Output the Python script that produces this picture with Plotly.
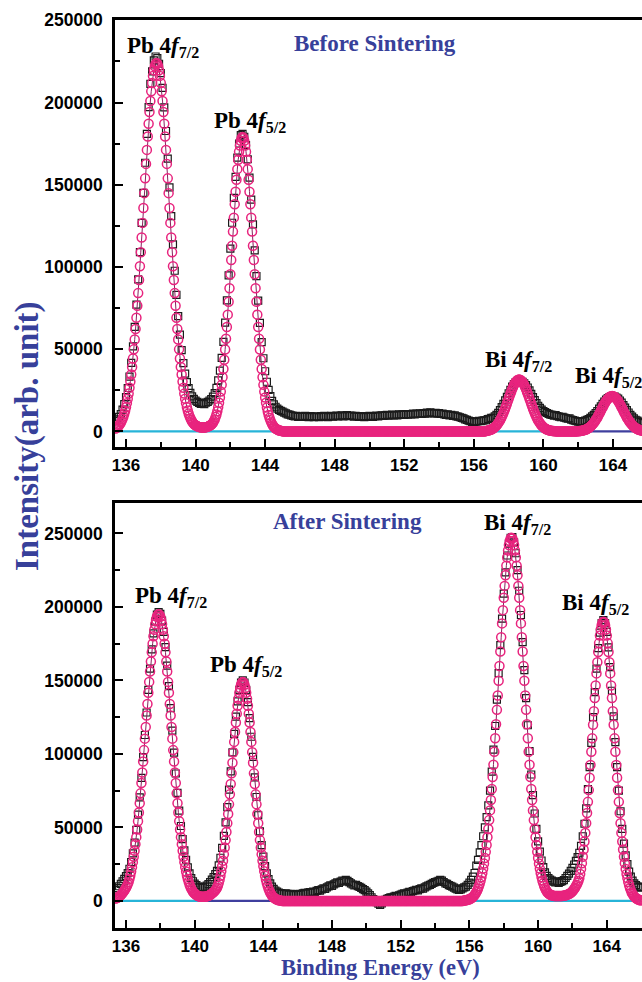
import plotly.graph_objects as go

# ---------------- data ----------------
E_START = 135.4          # first binding-energy sample (eV)
EXP_STEP = 0.1           # spacing of measured points (eV)
FIT_STEP = 0.05          # spacing of fitted-envelope points (eV)
K = 1000.0               # values below are in thousands of counts

# Before sintering: measured intensity (kcounts), 135.4 ... 166.0 eV
TOP_EXP_K = [
    6.2, 7.3, 8.8, 10.6, 13.2, 16.6, 20.9, 26.4, 33.3, 41.7,
    51.7, 63.6, 77.1, 92.4, 109.0, 126.8, 145.1, 163.4, 181.0, 197.2,
    211.3, 218.9, 225.6, 228.0, 227.0, 223.6, 217.9, 208.9, 197.1, 182.7,
    165.9, 148.4, 130.9, 113.7, 97.7, 83.0, 70.1, 58.8, 49.4, 41.5,
    35.1, 30.0, 26.3, 23.4, 21.3, 19.8, 18.7, 17.9, 17.3, 16.8,
    17.2, 16.6, 17.5, 18.0, 18.8, 19.7, 21.1, 23.3, 26.5, 31.0,
    37.0, 44.7, 54.4, 66.1, 79.7, 94.9, 111.1, 126.9, 142.0, 154.8,
    166.5, 175.1, 180.2, 181.0, 179.2, 174.1, 165.5, 154.3, 141.0, 125.9,
    110.1, 94.4, 79.5, 66.0, 54.3, 44.5, 36.6, 30.2, 25.2, 21.5,
    18.6, 16.5, 15.0, 13.9, 13.1, 12.5, 12.0, 11.4, 11.0, 10.4,
    10.2, 9.8, 9.5, 9.2, 9.4, 8.8, 8.9, 9.2, 8.8, 9.5,
    9.1, 8.7, 9.3, 9.0, 8.6, 9.2, 8.9, 8.7, 9.3, 8.9,
    9.4, 9.0, 8.6, 9.2, 9.5, 9.0, 9.3, 9.6, 9.1, 9.4,
    9.8, 9.2, 9.5, 9.9, 9.3, 9.6, 9.4, 9.0, 9.5, 9.2,
    8.8, 9.3, 9.1, 8.7, 9.2, 9.0, 9.4, 9.1, 8.8, 9.3,
    9.6, 9.2, 9.5, 9.8, 9.4, 9.7, 10.0, 9.6, 9.9, 10.2,
    9.8, 10.1, 9.7, 10.3, 10.0, 10.4, 10.1, 10.5, 10.2, 10.6,
    10.3, 10.8, 10.4, 10.9, 10.6, 11.0, 10.7, 11.1, 10.8, 11.4,
    11.0, 11.6, 11.2, 11.0, 11.3, 10.8, 11.1, 10.6, 10.9, 10.3,
    10.1, 10.4, 9.8, 10.0, 9.5, 9.7, 9.2, 9.0, 8.6, 8.2,
    7.9, 7.3, 7.0, 6.5, 6.2, 5.8, 5.6, 5.9, 6.1, 6.4,
    6.2, 6.6, 6.8, 6.8, 7.5, 7.7, 8.2, 8.3, 9.1, 10.0,
    11.3, 12.9, 14.8, 16.8, 18.9, 21.0, 23.2, 25.2, 27.2, 28.7,
    29.9, 30.5, 30.3, 30.6, 30.2, 29.3, 28.2, 26.7, 24.9, 22.8,
    20.9, 19.0, 17.2, 15.6, 14.3, 13.2, 12.4, 11.7, 11.2, 10.7,
    10.2, 10.1, 9.6, 9.9, 9.3, 9.0, 8.7, 8.9, 8.4, 8.0,
    7.7, 7.9, 7.2, 6.9, 6.5, 6.2, 6.0, 6.0, 6.0, 6.2,
    6.5, 7.0, 7.5, 8.2, 9.1, 10.0, 11.2, 12.4, 13.8, 15.2,
    16.7, 18.1, 19.3, 20.2, 20.9, 21.1, 21.2, 21.1, 20.6, 19.9,
    18.8, 17.5, 16.0, 14.5, 12.9, 11.5, 10.1, 9.0, 7.9, 7.1,
    6.5, 5.9, 5.6, 5.2, 5.0, 4.8, 4.8,
]

# Before sintering: fitted envelope (kcounts), 135.40 ... 166.00 eV
TOP_FIT_K = [
    1.7, 2.0, 2.5, 3.0, 3.7, 4.4, 5.3, 6.4, 7.6, 9.1,
    10.7, 12.6, 14.7, 17.2, 19.9, 23.0, 26.5, 30.3, 34.6, 39.2,
    44.3, 49.9, 55.9, 62.3, 69.1, 76.4, 84.1, 92.1, 100.4, 109.0,
    117.9, 126.8, 135.9, 144.9, 153.9, 162.7, 171.2, 179.4, 187.1, 194.3,
    200.9, 206.8, 211.9, 216.2, 219.6, 222.0, 223.5, 224.0, 223.5, 222.0,
    219.6, 216.2, 211.9, 206.8, 200.9, 194.3, 187.1, 179.4, 171.2, 162.7,
    153.9, 144.9, 135.9, 126.8, 117.9, 109.0, 100.4, 92.1, 84.1, 76.4,
    69.1, 62.3, 55.9, 49.9, 44.3, 39.2, 34.6, 30.3, 26.5, 23.0,
    19.9, 17.2, 14.7, 12.7, 10.9, 9.3, 8.0, 6.9, 6.0, 5.2,
    4.6, 4.1, 3.7, 3.4, 3.1, 2.9, 2.7, 2.6, 2.5, 2.4,
    2.4, 2.4, 2.4, 2.5, 2.6, 2.7, 2.9, 3.1, 3.4, 3.7,
    4.1, 4.6, 5.3, 6.2, 7.3, 8.7, 10.3, 12.3, 14.7, 17.4,
    20.6, 24.2, 28.3, 32.9, 38.0, 43.6, 49.8, 56.4, 63.5, 71.0,
    78.9, 87.1, 95.6, 104.2, 112.9, 121.5, 130.0, 138.1, 145.8, 153.0,
    159.5, 165.2, 170.1, 173.9, 176.7, 178.4, 179.0, 178.4, 176.7, 173.9,
    170.1, 165.2, 159.5, 153.0, 145.8, 138.1, 130.0, 121.5, 112.9, 104.2,
    95.6, 87.1, 78.9, 71.0, 63.5, 56.4, 49.8, 43.6, 38.0, 32.9,
    28.3, 24.2, 20.6, 17.4, 14.6, 12.1, 10.0, 8.3, 6.8, 5.5,
    4.4, 3.6, 2.8, 2.2, 1.8, 1.4, 1.1, 0.8, 0.6, 0.5,
    0.4, 0.3, 0, 0, 0, 0, 0, 0, 0, 0,
    0, 0, 0, 0, 0, 0, 0, 0, 0, 0,
    0, 0, 0, 0, 0, 0, 0, 0, 0, 0,
    0, 0, 0, 0, 0, 0, 0, 0, 0, 0,
    0, 0, 0, 0, 0, 0, 0, 0, 0, 0,
    0, 0, 0, 0, 0, 0, 0, 0, 0, 0,
    0, 0, 0, 0, 0, 0, 0, 0, 0, 0,
    0, 0, 0, 0, 0, 0, 0, 0, 0, 0,
    0, 0, 0, 0, 0, 0, 0, 0, 0, 0,
    0, 0, 0, 0, 0, 0, 0, 0, 0, 0,
    0, 0, 0, 0, 0, 0, 0, 0, 0, 0,
    0, 0, 0, 0, 0, 0, 0, 0, 0, 0,
    0, 0, 0, 0, 0, 0, 0, 0, 0, 0,
    0, 0, 0, 0, 0, 0, 0, 0, 0, 0,
    0, 0, 0, 0, 0, 0, 0, 0, 0, 0,
    0, 0, 0, 0, 0, 0, 0, 0, 0, 0,
    0, 0, 0, 0, 0, 0, 0, 0, 0, 0,
    0, 0, 0, 0, 0, 0, 0, 0, 0, 0,
    0, 0, 0, 0, 0, 0, 0, 0, 0, 0,
    0, 0, 0, 0, 0, 0, 0, 0, 0, 0,
    0, 0, 0, 0, 0, 0, 0, 0, 0, 0,
    0, 0, 0, 0, 0, 0, 0, 0, 0, 0,
    0, 0, 0, 0, 0, 0, 0, 0, 0, 0,
    0, 0, 0, 0, 0, 0, 0.3, 0.4, 0.5, 0.6,
    0.8, 1.0, 1.2, 1.5, 1.8, 2.1, 2.6, 3.1, 3.6, 4.3,
    5.0, 5.8, 6.7, 7.7, 8.8, 9.9, 11.2, 12.5, 13.9, 15.3,
    16.8, 18.3, 19.9, 21.4, 22.9, 24.3, 25.7, 26.9, 28.1, 29.1,
    29.9, 30.6, 31.1, 31.4, 31.5, 31.4, 31.1, 30.6, 29.9, 29.1,
    28.1, 26.9, 25.7, 24.3, 22.9, 21.4, 19.9, 18.3, 16.8, 15.3,
    13.9, 12.5, 11.2, 9.9, 8.8, 7.7, 6.7, 5.8, 5.0, 4.3,
    3.6, 3.1, 2.6, 2.1, 1.8, 1.5, 1.2, 1.0, 0.8, 0.6,
    0.5, 0.4, 0.3, 0.2, 0.2, 0.1, 0.1, 0, 0, 0,
    0, 0, 0, 0, 0, 0, 0, 0, 0, 0,
    0, 0, 0, 0, 0, 0, 0, 0, 0, 0,
    0, 0.1, 0.1, 0.2, 0.2, 0.3, 0.4, 0.5, 0.7, 0.8,
    1.0, 1.2, 1.5, 1.7, 2.1, 2.5, 2.9, 3.4, 4.0, 4.6,
    5.2, 6.0, 6.8, 7.6, 8.5, 9.5, 10.5, 11.5, 12.5, 13.6,
    14.6, 15.6, 16.6, 17.5, 18.4, 19.2, 19.8, 20.4, 20.9, 21.2,
    21.4, 21.5, 21.4, 21.2, 20.9, 20.4, 19.8, 19.2, 18.4, 17.5,
    16.6, 15.6, 14.6, 13.6, 12.5, 11.5, 10.5, 9.5, 8.5, 7.6,
    6.8, 6.0, 5.2, 4.6, 4.0, 3.4, 2.9, 2.5, 2.1, 1.7,
    1.5, 1.2, 1.0, 0.8, 0.7, 0.5, 0.4, 0.3, 0.2, 0.2,
    0.1, 0.1, 0.1,
]

# After sintering: measured intensity (kcounts), 135.4 ... 166.0 eV
BOT_EXP_K = [
    7.6, 8.7, 10.0, 11.6, 13.4, 15.0, 16.9, 18.9, 21.9, 26.5,
    32.4, 39.7, 48.4, 58.7, 70.5, 83.7, 97.9, 112.9, 128.2, 143.6,
    158.1, 171.1, 182.0, 190.0, 194.8, 196.5, 195.3, 190.7, 183.0, 172.6,
    160.1, 146.1, 131.2, 115.9, 100.9, 86.7, 73.5, 61.5, 51.0, 42.0,
    34.4, 28.0, 22.8, 18.7, 15.6, 13.4, 11.8, 10.7, 9.8, 9.3,
    9.0, 9.3, 9.8, 10.5, 11.5, 12.8, 14.5, 16.3, 18.2, 20.5,
    24.2, 29.4, 36.1, 44.2, 53.4, 63.8, 75.7, 88.1, 101.0, 113.7,
    125.4, 135.8, 143.6, 148.6, 150.0, 148.6, 143.6, 135.3, 124.4, 111.7,
    98.0, 84.1, 70.7, 58.3, 47.4, 38.0, 30.1, 23.7, 18.7, 14.9,
    11.9, 9.7, 8.2, 7.1, 6.3, 5.7, 5.3, 5.0, 4.6, 5.2,
    4.8, 4.3, 4.9, 4.4, 4.0, 4.6, 4.2, 4.8, 4.4, 5.1,
    5.5, 5.0, 5.7, 6.1, 5.6, 6.4, 6.0, 6.8, 7.3, 7.0,
    7.9, 8.6, 8.2, 9.3, 9.9, 10.6, 10.2, 11.3, 11.9, 12.6,
    12.2, 13.1, 13.8, 13.4, 14.3, 13.7, 12.8, 11.9, 11.2, 10.6,
    11.0, 10.1, 9.6, 8.9, 8.0, 7.4, 6.4, 5.1, 3.9, 2.5,
    1.2, 0.3, -0.8, -1.9, -2.7, -1.6, -0.4, 0.7, 1.4, 2.0,
    2.5, 2.2, 2.9, 3.4, 3.1, 3.8, 4.3, 4.9, 5.2, 4.8,
    5.6, 6.2, 5.9, 6.7, 7.1, 7.5, 7.2, 8.0, 8.6, 8.3,
    9.2, 9.9, 10.5, 10.9, 11.6, 12.3, 12.8, 13.1, 13.6, 14.3,
    13.8, 12.9, 12.0, 11.6, 10.8, 10.3, 9.8, 9.1, 8.4, 7.9,
    7.5, 7.9, 8.5, 9.2, 9.8, 11.0, 12.5, 14.3, 16.5, 19.0,
    24.0, 28.0, 33.0, 38.0, 44.0, 50.0, 57.0, 65.0, 75.0, 88.0,
    103.0, 119.0, 137.0, 155.0, 174.0, 192.0, 209.0, 223.5, 235.0, 243.0,
    247.0, 247.5, 244.0, 236.5, 225.0, 211.0, 194.5, 176.0, 157.0, 138.0,
    119.5, 102.0, 86.0, 72.0, 59.5, 49.0, 40.5, 33.5, 27.5, 23.0,
    19.5, 17.0, 15.5, 14.5, 13.8, 13.2, 12.6, 13.4, 12.2, 12.9,
    13.5, 14.2, 15.6, 17.0, 18.6, 20.5, 22.5, 24.8, 27.2, 29.8,
    32.8, 37.5, 44.0, 52.5, 63.0, 76.0, 91.0, 107.5, 125.0, 142.0,
    158.0, 172.0, 182.5, 189.0, 191.0, 189.0, 183.0, 172.5, 159.0, 143.0,
    125.5, 108.0, 91.0, 75.0, 61.0, 49.0, 39.0, 31.0, 25.0, 20.0,
    16.5, 13.8, 12.0, 10.8, 10.0, 9.4, 9.0,
]

# After sintering: fitted envelope (kcounts), 135.40 ... 166.00 eV
BOT_FIT_K = [
    1.6, 1.9, 2.2, 2.6, 3.0, 3.5, 4.1, 4.7, 5.4, 6.2,
    7.0, 7.9, 8.9, 10.0, 11.4, 12.8, 14.9, 17.3, 20.0, 23.0,
    26.4, 30.1, 34.2, 38.6, 43.4, 48.6, 54.2, 60.2, 66.5, 73.2,
    80.2, 87.4, 94.9, 102.6, 110.4, 118.3, 126.2, 134.0, 141.6, 149.0,
    156.1, 162.9, 169.1, 174.9, 180.0, 184.5, 188.2, 191.1, 193.3, 194.6,
    195.0, 194.6, 193.3, 191.1, 188.2, 184.5, 180.0, 174.9, 169.1, 162.9,
    156.1, 149.0, 141.6, 134.0, 126.2, 118.3, 110.4, 102.6, 94.9, 87.4,
    80.2, 73.2, 66.5, 60.2, 54.2, 48.6, 43.4, 38.6, 34.2, 30.1,
    26.4, 23.0, 20.0, 17.3, 15.0, 13.0, 11.2, 9.7, 8.4, 7.3,
    6.4, 5.6, 5.0, 4.5, 4.1, 3.7, 3.4, 3.2, 3.0, 2.9,
    2.8, 2.8, 2.8, 2.8, 2.9, 3.0, 3.1, 3.3, 3.5, 3.8,
    4.1, 4.5, 5.0, 5.5, 6.0, 6.6, 7.2, 8.0, 9.0, 10.4,
    12.2, 14.5, 17.1, 20.2, 23.6, 27.4, 31.7, 36.3, 41.4, 46.9,
    52.8, 59.1, 65.7, 72.5, 79.6, 86.8, 94.0, 101.2, 108.2, 115.0,
    121.4, 127.4, 132.8, 137.5, 141.6, 144.8, 147.1, 148.5, 149.0, 148.5,
    147.1, 144.8, 141.6, 137.5, 132.8, 127.4, 121.4, 115.0, 108.2, 101.2,
    94.0, 86.8, 79.6, 72.5, 65.7, 59.1, 52.8, 46.9, 41.4, 36.3,
    31.7, 27.4, 23.6, 20.2, 17.1, 14.5, 12.1, 10.1, 8.4, 6.9,
    5.6, 4.6, 3.7, 3.0, 2.4, 1.9, 1.5, 1.1, 0.9, 0.7,
    0.5, 0.4, 0.3, 0.2, 0, 0, 0, 0, 0, 0,
    0, 0, 0, 0, 0, 0, 0, 0, 0, 0,
    0, 0, 0, 0, 0, 0, 0, 0, 0, 0,
    0, 0, 0, 0, 0, 0, 0, 0, 0, 0,
    0, 0, 0, 0, 0, 0, 0, 0, 0, 0,
    0, 0, 0, 0, 0, 0, 0, 0, 0, 0,
    0, 0, 0, 0, 0, 0, 0, 0, 0, 0,
    0, 0, 0, 0, 0, 0, 0, 0, 0, 0,
    0, 0, 0, 0, 0, 0, 0, 0, 0, 0,
    0, 0, 0, 0, 0, 0, 0, 0, 0, 0,
    0, 0, 0, 0, 0, 0, 0, 0, 0, 0,
    0, 0, 0, 0, 0, 0, 0, 0, 0, 0,
    0, 0, 0, 0, 0, 0, 0, 0, 0, 0,
    0, 0, 0, 0, 0, 0, 0, 0, 0, 0,
    0, 0, 0, 0, 0, 0, 0, 0, 0, 0,
    0, 0, 0, 0, 0, 0, 0, 0, 0, 0,
    0, 0, 0, 0, 0, 0, 0, 0, 0, 0,
    0, 0, 0, 0, 0, 0, 0, 0, 0, 0,
    0, 0, 0, 0, 0, 0, 0, 0, 0, 0,
    0, 0, 0, 0, 0, 0, 0, 0, 0, 0,
    0, 0, 0, 0, 0, 0, 0, 0, 0, 0,
    0, 0, 0, 0, 0, 0.2, 0.3, 0.4, 0.5, 0.6,
    0.8, 1.0, 1.2, 1.5, 1.8, 2.2, 2.7, 3.3, 4.1, 4.9,
    5.9, 7.1, 8.4, 10.0, 11.8, 13.9, 16.2, 18.9, 22.0, 25.4,
    29.2, 33.4, 38.1, 43.3, 48.9, 55.0, 61.6, 68.7, 76.2, 84.3,
    92.7, 101.5, 110.7, 120.2, 130.0, 139.8, 149.8, 159.8, 169.7, 179.4,
    188.8, 197.8, 206.3, 214.3, 221.5, 228.0, 233.7, 238.4, 242.1, 244.8,
    246.5, 247.0, 246.5, 244.8, 242.1, 238.4, 233.7, 228.0, 221.5, 214.3,
    206.3, 197.8, 188.8, 179.4, 169.7, 159.8, 149.8, 139.8, 130.0, 120.2,
    110.7, 101.5, 92.7, 84.3, 76.2, 68.7, 61.6, 55.0, 48.9, 43.3,
    38.1, 33.4, 29.2, 25.4, 22.0, 18.9, 16.2, 13.9, 12.0, 10.3,
    8.8, 7.6, 6.6, 5.8, 5.2, 4.7, 4.3, 4.0, 3.8, 3.6,
    3.5, 3.4, 3.4, 3.3, 3.3, 3.3, 3.3, 3.3, 3.3, 3.3,
    3.4, 3.5, 3.6, 3.7, 3.9, 4.1, 4.3, 4.5, 4.8, 5.1,
    5.5, 6.0, 6.6, 7.3, 8.1, 9.0, 10.0, 11.1, 12.3, 13.7,
    15.5, 18.4, 21.8, 25.7, 30.1, 35.0, 40.4, 46.3, 52.8, 59.8,
    67.4, 75.4, 83.8, 92.5, 101.5, 110.6, 119.8, 129.0, 138.0, 146.6,
    154.8, 162.4, 169.3, 175.4, 180.5, 184.6, 187.6, 189.4, 190.0, 189.4,
    187.6, 184.6, 180.5, 175.4, 169.3, 162.4, 154.8, 146.6, 138.0, 129.0,
    119.8, 110.6, 101.5, 92.5, 83.8, 75.4, 67.4, 59.8, 52.8, 46.3,
    40.4, 35.0, 30.1, 25.7, 21.8, 18.4, 15.5, 12.9, 10.7, 8.8,
    7.2, 5.8, 4.7, 3.8, 3.0, 2.4, 1.9, 1.5, 1.1, 0.9,
    0.7, 0.5, 0.4,
]

# zero baselines of the fitted components that stay visible (eV ranges)
TOP_CYAN_SEGS = [[135.4, 145.3], [157.0, 161.2]]
TOP_NAVY_SEGS = [[161.2, 166.0]]
BOT_CYAN_SEGS = [[135.4, 140.4], [156.0, 166.0]]
BOT_NAVY_SEGS = [[140.4, 145.3]]

X_TICKS = [136, 140, 144, 148, 152, 156, 160, 164]
Y_TICKS = [0, 50000, 100000, 150000, 200000, 250000]

assert len(TOP_EXP_K) == 307, len(TOP_EXP_K)
assert len(BOT_EXP_K) == 307, len(BOT_EXP_K)
assert len(TOP_FIT_K) == 613, len(TOP_FIT_K)
assert len(BOT_FIT_K) == 613, len(BOT_FIT_K)

# ---------------- figure ----------------
W, H = 642, 982
ML, MR, MT, MB = 115, 0, 20, 54


def px_x(x):
    return (x - ML) / (W - ML - MR)


def px_y(y):
    return (H - MB - y) / (H - MT - MB)


def grid(n, step):
    return [round(E_START + i * step, 4) for i in range(n)]


SERIF = "Times New Roman, Liberation Serif, serif"
SANS = "Arial, Liberation Sans, sans-serif"
BLUE = "#37409a"
PINK = "#e8247e"
CYAN = "#27b4d8"
NAVY = "#3f3f9e"

fig = go.Figure()


def add_panel(xa, ya, exp_k, fit_k, cyan, navy):
    for seg in cyan:
        fig.add_trace(go.Scatter(x=seg, y=[0, 0], mode="lines", xaxis=xa, yaxis=ya,
                                 line=dict(color=CYAN, width=2.2), hoverinfo="skip"))
    for seg in navy:
        fig.add_trace(go.Scatter(x=seg, y=[0, 0], mode="lines", xaxis=xa, yaxis=ya,
                                 line=dict(color=NAVY, width=2.2), hoverinfo="skip"))
    fig.add_trace(go.Scatter(
        x=grid(len(exp_k), EXP_STEP), y=[v * K for v in exp_k], mode="markers",
        xaxis=xa, yaxis=ya,
        marker=dict(symbol="square-open", size=7, color="#1b1b1b",
                    line=dict(width=1.2, color="#1b1b1b"))))
    fig.add_trace(go.Scatter(
        x=grid(len(fit_k), FIT_STEP), y=[v * K for v in fit_k], mode="lines+markers",
        xaxis=xa, yaxis=ya,
        line=dict(color="#8a1f5e", width=1),
        marker=dict(symbol="circle-open", size=9, color=PINK,
                    line=dict(width=1.5, color=PINK))))


add_panel("x", "y", TOP_EXP_K, TOP_FIT_K, TOP_CYAN_SEGS, TOP_NAVY_SEGS)
add_panel("x2", "y2", BOT_EXP_K, BOT_FIT_K, BOT_CYAN_SEGS, BOT_NAVY_SEGS)

axis_common = dict(
    showline=True, linecolor="black", linewidth=2.5, showgrid=False, zeroline=False,
    ticks="inside", ticklen=8, tickwidth=2, tickcolor="black",
)
xcommon = dict(axis_common, tickvals=X_TICKS, ticktext=[str(v) for v in X_TICKS],
               mirror=True, ticklabelstandoff=1,
               tickfont=dict(family=SANS, size=17, color="black", weight="bold"),
               minor=dict(tick0=136, dtick=2, ticks="inside", ticklen=5, tickwidth=2,
                          tickcolor="black"))
ycommon = dict(axis_common, tickvals=Y_TICKS, ticktext=[str(v) for v in Y_TICKS],
               ticklabelstandoff=6,
               tickfont=dict(family=SANS, size=17.5, color="black", weight="bold"),
               minor=dict(tick0=0, dtick=25000, ticks="inside", ticklen=5, tickwidth=2,
                          tickcolor="black"))

fig.update_layout(
    width=W, height=H, margin=dict(l=ML, r=MR, t=MT, b=MB),
    paper_bgcolor="white", plot_bgcolor="white", showlegend=False,
    xaxis=dict(xcommon, domain=[0, 1], range=[135.367, 165.668], anchor="y"),
    yaxis=dict(ycommon, domain=[px_y(446.7), 1.0], range=[-9300, 250200], anchor="x"),
    xaxis2=dict(xcommon, domain=[0, 1], range=[135.36, 166.05], anchor="y2"),
    yaxis2=dict(ycommon, domain=[0, px_y(502.7)], range=[-18400, 270900], anchor="x2"),
)

PEAK_LABELS = [
    ("Pb 4<i>f</i><sub>7/2</sub>", 125, 47),
    ("Pb 4<i>f</i><sub>5/2</sub>", 212, 122),
    ("Bi 4<i>f</i><sub>7/2</sub>", 483, 361),
    ("Bi 4<i>f</i><sub>5/2</sub>", 573, 377),
    ("Pb 4<i>f</i><sub>7/2</sub>", 133, 597),
    ("Pb 4<i>f</i><sub>5/2</sub>", 208, 666),
    ("Bi 4<i>f</i><sub>7/2</sub>", 482, 524),
    ("Bi 4<i>f</i><sub>5/2</sub>", 560, 604),
]
for text, x, y in PEAK_LABELS:
    fig.add_annotation(text="<b>" + text + "</b>", x=px_x(x), y=px_y(y),
                       xref="paper", yref="paper", xanchor="left", yanchor="middle",
                       showarrow=False, font=dict(family=SERIF, size=23, color="black"))

TITLES = [
    ("Before Sintering", 375, 43),
    ("After Sintering", 347, 521),
]
for text, x, y in TITLES:
    fig.add_annotation(text="<b>" + text + "</b>", x=px_x(x), y=px_y(y),
                       xref="paper", yref="paper", xanchor="center", yanchor="middle",
                       showarrow=False, font=dict(family=SERIF, size=23, color=BLUE))

fig.add_annotation(text="<b>Intensity(arb. unit)</b>", x=px_x(27), y=px_y(436),
                   xref="paper", yref="paper", xanchor="center", yanchor="middle",
                   textangle=-90, showarrow=False,
                   font=dict(family=SERIF, size=33, color=BLUE))
fig.add_annotation(text="<b>Binding Energy (eV)</b>", x=px_x(380), y=px_y(968),
                   xref="paper", yref="paper", xanchor="center", yanchor="middle",
                   showarrow=False, font=dict(family=SERIF, size=22.5, color=BLUE))

fig.write_html("out.html")
